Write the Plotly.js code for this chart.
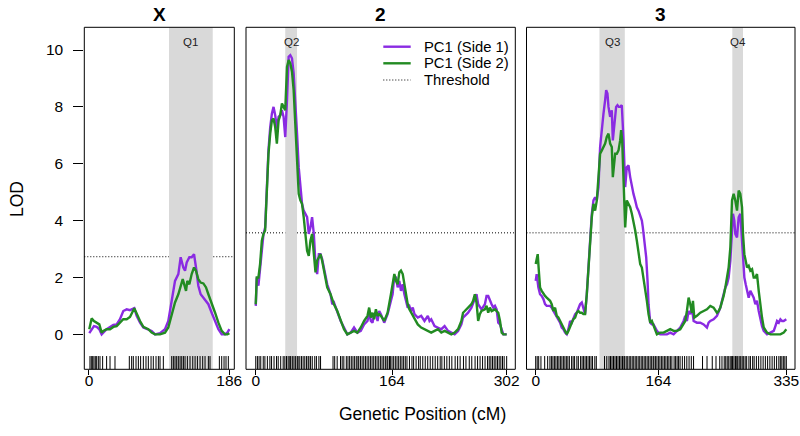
<!DOCTYPE html>
<html>
<head>
<meta charset="utf-8">
<script src="https://cdn.plot.ly/plotly-3.0.1.min.js"></script>
<style>html,body{margin:0;padding:0;background:#fff;}#chart{width:800px;height:436px;}</style>
</head>
<body>
<div id="chart"></div>
<script>
// ---------------- DATA ----------------
const chromosomes = ['X', '2', '3'];
const chrLengths = [186, 302, 335];
const chrTicks = [[0, 186], [0, 164, 302], [0, 164, 335]];
const thresholds = [2.73, 3.57, 3.57];
const seriesNames = ['PC1 (Side 1)', 'PC1 (Side 2)', 'Threshold'];
const lodTicks = [0, 2, 4, 6, 8, 10];

const qtlNames = ['Q1', 'Q2', 'Q3', 'Q4'];
const qtlChr = [0, 1, 2, 2];
const qtlStart = [106.1, 35.5, 85.2, 262.8];
const qtlEnd = [164.1, 49.7, 119.1, 277.1];

// Chromosome X
const chrXPos1 = [0.4,3.5,6.6,10.2,13.7,16.8,19.0,23.4,27.9,32.3,36.7,41.1,45.5,50.0,54.4,60.1,63.2,67.7,72.1,78.7,83.1,87.6,94.2,100.8,105.2,109.7,114.1,118.5,121.6,125.1,127.4,129.6,133.1,136.2,139.3,141.9,145.0,148.1,151.7,153.9,158.3,162.7,167.2,171.6,176.0,180.4,183.5,186.2];
const chrXSide1 = [0.04,0.18,0.29,0.26,0.18,0,0.06,0.18,0.26,0.33,0.35,0.53,0.82,0.88,0.85,0.92,0.65,0.41,0.24,0.18,0.12,0,0.04,0.18,0.47,1.18,1.88,2.12,2.71,2.35,2.24,2.53,2.71,2.71,2.82,2.35,1.71,1.41,1.29,1.18,1.06,0.76,0.47,0.18,0,0,0.06,0.18];
const chrXPos2 = [0.4,3.5,6.6,10.2,13.7,16.8,19.0,23.4,27.9,32.3,36.7,41.1,45.5,50.0,54.4,60.1,63.2,67.7,72.1,78.7,83.1,87.6,94.2,100.8,105.2,109.7,114.1,118.5,121.6,124.3,128.7,130.4,133.1,136.2,139.3,141.9,145.0,148.1,151.7,155.2,158.3,162.7,167.2,171.6,176.0,180.4,183.5,186.2];
const chrXSide2 = [0.18,0.56,0.47,0.41,0.35,0.06,0.12,0.18,0.18,0.26,0.29,0.41,0.53,0.53,0.61,0.92,0.71,0.47,0.26,0.18,0.06,0,0,0.06,0.24,0.71,1.12,1.41,1.65,1.94,1.53,1.88,1.76,2.12,2.35,2.24,1.94,1.82,1.79,1.65,1.41,1.12,0.76,0.41,0.12,0,0,0.04];

// Chromosome 2
const chr2Pos1 = [0,1.2,3.2,5.2,7.3,9.3,11.3,13.3,15.3,17.4,19.4,21.4,23.4,25.4,27.5,29.5,31.5,33.5,35.5,37.6,39.6,41.6,43.6,45.6,47.6,49.7,51.7,53.7,55.7,57.7,59.8,61.8,63.8,65.8,67.8,69.9,71.9,73.9,75.9,77.9,79.9,82.0,84.0,86.0,90.0,92.1,94.1,98.1,102.2,106.2,110.2,114.3,118.3,122.3,126.4,130.4,134.5,136.5,138.5,140.5,142.5,144.6,146.6,148.6,150.6,154.6,158.7,162.7,164.7,166.8,168.8,170.8,172.8,174.8,176.9,178.9,182.9,184.9,187.0,189.0,191.0,195.0,199.1,203.1,207.1,209.2,211.2,215.2,219.3,223.3,227.3,229.3,231.4,235.4,239.4,243.5,247.5,249.5,251.6,255.6,259.6,261.6,263.7,265.7,267.7,271.7,275.8,277.8,279.8,281.8,283.9,285.9,287.9,289.9,291.9,294.0,296.0,298.0,300.0,302.0];
const chr2Side1 = [1.0,2.0,1.71,2.35,3.18,3.53,3.76,5.18,6.47,7.29,7.76,8.0,7.71,7.24,7.65,7.71,7.88,7.65,6.94,8.24,9.76,9.82,9.71,9.18,8.24,7.06,5.88,5.18,4.59,4.35,4.24,4.12,3.53,3.76,4.12,3.53,2.47,2.12,2.82,2.82,2.65,2.35,2.0,1.76,1.41,1.06,1.12,0.76,0.47,0.24,0,0.06,0.24,0.06,0.12,0.35,0.47,0.76,0.47,0.41,0.71,0.76,0.47,0.82,0.71,0.41,0.71,1.18,1.41,2.06,2.0,1.65,1.88,1.53,1.76,1.41,0.94,1.0,0.82,0.94,0.71,0.59,0.65,0.47,0.65,0.47,0.53,0.29,0.24,0.18,0.29,0.18,0.12,0.06,0,0.12,0.35,0.59,0.65,0.76,0.94,1.12,1.24,1.41,1.06,0.88,1.06,1.35,1.35,1.18,1.06,0.94,1.0,0.88,0.41,0.35,0.18,0,0,0];
const chr2Pos2 = [0,1.2,3.2,5.2,7.3,9.3,11.3,13.3,15.3,17.4,19.4,21.4,23.4,25.4,27.5,29.5,31.5,33.5,35.5,37.6,39.6,41.6,43.6,45.6,47.6,49.7,51.7,53.7,55.7,57.7,59.8,61.8,63.8,65.8,67.8,69.9,71.9,73.9,75.9,77.9,79.9,82.0,84.0,86.0,90.0,94.1,98.1,102.2,106.2,110.2,114.3,118.3,122.3,126.4,130.4,134.5,136.5,138.5,140.5,142.5,144.6,146.6,148.6,150.6,154.6,158.7,162.7,164.7,166.8,168.8,170.8,172.8,174.8,176.9,178.9,182.9,184.9,187.0,191.0,195.0,199.1,203.1,207.1,211.2,215.2,219.3,223.3,227.3,231.4,235.4,239.4,243.5,247.5,249.5,251.6,255.6,259.6,261.6,263.7,265.7,267.7,269.7,271.7,275.8,277.8,279.8,281.8,283.9,287.9,291.9,294.0,296.0,298.0,300.0,302.0];
const chr2Side2 = [1.06,2.0,2.0,2.47,3.29,3.53,3.65,5.18,6.35,7.06,7.53,7.59,7.29,6.71,7.53,7.71,8.12,8.0,7.88,9.41,9.65,9.53,9.24,8.59,7.41,6.12,4.94,4.71,4.59,4.12,3.53,2.94,2.76,3.29,3.53,2.82,2.18,2.59,2.71,2.82,2.59,2.24,1.88,1.65,1.41,1.06,0.82,0.47,0.18,0,0.06,0.12,0.06,0.24,0.47,0.65,0.94,0.59,0.76,0.53,0.88,0.65,0.71,0.65,0.47,0.76,1.41,1.76,2.12,1.88,1.76,2.18,2.24,2.12,1.71,1.06,0.88,0.76,0.53,0.35,0.24,0.18,0.12,0.06,0.12,0.18,0.06,0.12,0.06,0,0.06,0.18,0.47,0.76,0.82,0.94,1.06,1.18,1.41,1.12,0.47,0.71,0.82,0.88,1.0,0.76,0.94,0.82,0.88,0.76,0.47,0.06,0,0,0];

// Chromosome 3
const chr3Pos1 = [0,1.3,3.6,5.8,8.0,10.3,12.5,14.7,19.2,21.4,23.7,25.9,28.1,30.3,32.6,34.8,37.0,39.3,41.5,43.7,46.0,48.2,50.4,52.7,54.9,57.1,59.3,61.6,63.8,66.0,68.3,70.5,72.7,75.0,77.2,79.4,81.7,83.9,86.1,88.4,90.6,92.8,94.2,95.9,97.3,99.5,101.7,103.1,104.9,106.2,107.5,109.3,111.1,112.9,115.1,117.4,119.6,121.8,124.1,126.3,128.5,130.7,133.0,135.2,137.4,139.7,141.9,143.2,145.0,147.7,149.5,150.8,153.1,155.3,157.5,159.8,162.0,166.4,170.9,175.4,179.8,184.3,188.8,193.2,197.7,199.9,202.1,204.4,206.6,208.8,211.1,215.5,220.0,224.5,228.9,231.1,233.4,237.8,242.3,246.8,249.0,251.2,253.5,255.7,257.9,260.2,262.4,263.7,265.5,266.8,269.1,271.3,273.5,274.9,277.1,278.9,280.7,282.5,284.7,286.9,289.2,291.4,293.6,295.8,298.1,300.3,302.5,304.8,307.0,309.2,313.7,318.2,320.4,322.6,324.9,327.1,329.3,331.5,335];
const chr3Side1 = [1.88,2.12,1.65,1.41,1.35,1.24,1.06,1.0,1.0,0.94,0.82,0.71,0.59,0.47,0.41,0.24,0.18,0.06,0,0.18,0.47,0.41,0.59,0.71,0.76,0.94,1.06,1.12,0.94,0.71,1.41,2.35,3.29,4.24,4.71,4.82,4.71,5.18,6.59,7.29,7.76,8.24,8.59,8.47,8.0,7.65,7.88,6.82,7.41,7.88,8.0,8.06,8.0,8.0,8.06,6.82,5.18,5.88,5.94,5.53,5.18,4.94,4.71,4.47,4.35,4.12,4.0,3.76,3.41,2.71,1.88,1.06,0.41,0.35,0.35,0.24,0.12,0,0,0,0.06,0,0.12,0.24,0.47,0.65,0.47,0.82,0.71,0.94,0.47,0.41,0.41,0.35,0.24,0.41,0.47,0.53,0.65,0.94,1.18,1.41,1.65,1.76,2.0,2.59,4.0,4.24,4.0,3.53,3.41,4.12,4.24,3.53,2.59,2.0,1.76,1.53,1.29,1.53,1.41,1.29,1.06,1.18,0.82,0.53,0.29,0.12,0.06,0,0.06,0.12,0.29,0.47,0.41,0.53,0.47,0.47,0.53];
const chr3Pos2 = [0,1.3,2.7,4.5,5.8,8.0,10.3,12.5,14.7,19.2,21.4,23.7,25.9,28.1,30.3,32.6,34.8,37.0,39.3,41.5,43.7,46.0,48.2,50.4,52.7,54.9,57.1,59.3,61.6,63.8,66.0,68.3,70.5,72.7,75.0,77.2,79.4,81.7,83.9,86.1,88.4,90.6,92.8,95.0,97.3,99.5,101.7,103.1,104.9,106.2,108.4,110.7,112.9,114.2,115.6,117.4,119.6,121.8,124.1,126.3,128.5,130.7,133.0,135.2,137.4,139.7,141.9,144.1,146.4,148.6,150.8,153.1,155.3,157.5,159.8,162.0,166.4,170.9,175.4,179.8,184.3,188.8,193.2,197.7,199.9,202.1,204.4,206.6,208.8,210.2,212.0,215.5,220.0,224.5,228.9,233.4,237.8,242.3,244.5,246.8,249.0,251.2,253.5,255.7,257.9,260.2,262.4,264.6,266.8,269.1,271.3,273.5,275.8,277.1,278.9,280.7,282.5,284.7,286.9,289.2,291.4,293.6,295.8,298.1,300.3,302.5,304.8,309.2,313.7,318.2,322.6,327.1,331.5,335];
const chr3Side2 = [2.47,2.71,2.82,2.12,1.65,1.53,1.41,1.35,1.29,1.18,1.06,0.82,0.94,0.65,0.59,0.47,0.35,0.24,0.12,0,0.12,0.29,0.41,0.53,0.59,0.76,0.82,0.76,0.76,0.71,0.71,1.41,2.35,3.29,4.12,4.59,4.35,4.71,5.41,6.35,6.47,6.59,6.71,6.94,7.06,6.71,6.59,5.53,6.12,6.35,6.35,6.47,6.82,7.18,6.82,5.18,3.76,4.71,4.59,4.47,4.24,4.0,3.65,3.29,2.82,2.47,2.35,2.0,1.65,1.18,0.71,0.41,0.47,0.29,0.12,0,0.06,0.06,0.12,0.18,0.12,0.12,0.18,0.35,0.47,0.82,1.29,1.06,0.76,1.18,0.59,0.65,0.76,0.82,0.88,1.0,0.94,0.76,0.82,0.94,1.12,1.35,1.65,2.0,2.35,3.06,4.71,4.94,4.71,4.35,5.06,4.94,4.47,3.53,2.82,2.59,2.35,2.41,2.24,2.29,2.0,2.0,2.12,1.53,0.94,0.59,0.24,0.06,0,0,0,0,0.06,0.18];

// Marker (genotyped) positions shown in the rug
const chrXMarkers = [1.3,3.1,4.9,6.6,8.4,10.2,12.4,14.6,18.1,23.4,27.9,34.5,53.5,56.6,58.8,62.4,65.5,68.5,72.1,75.6,78.7,82.3,85.3,88.9,92.0,94.2,98.6,109.7,111.9,114.1,116.3,118.5,120.8,123.0,125.2,127.4,130.5,134.0,137.6,140.7,143.8,147.3,150.8,153.9,158.3,160.5,172.9,176.0,179.1,181.7,184.8];
const chr2Markers = [0,2,4,6,9,11,14,17,19,22,25,27,30,33,35,37,39,41,42,44,46,48,50,51,53,55,57,59,61,63,64,66,68,71,73,76,78,93,95,98,102,104,106,109,111,113,115,117,119,121,123,124,126,128,130,132,134,136,138,140,142,144,146,148,150,152,154,156,158,159,161,162,164,166,168,170,172,174,176,178,180,182,185,188,190,193,196,198,201,204,207,210,213,216,219,222,224,227,230,233,236,240,243,246,250,253,257,260,264,267,270,273,276,279,281,283,285,287,289,291,293,295,297,299,302];
const chr3Markers = [0,2,4,7,12,16,19,21,23,25,27,29,31,33,35,37,39,41,43,45,48,50,52,55,57,60,62,64,66,68,70,72,74,76,79,81,92,95,98,100,102,104,106,108,110,112,114,116,118,119,121,123,125,127,129,131,133,135,137,139,141,143,145,147,149,151,153,155,157,158,160,162,164,166,168,170,172,174,176,178,180,182,185,187,189,191,193,196,199,202,205,208,211,223,229,236,241,246,249,252,254,256,258,260,262,263,265,267,268,270,272,274,276,278,280,282,285,287,290,292,295,298,301,304,307,310,313,316,319,322,325,327,329,331,333,335];

// ---------------- LAYOUT HELPERS ----------------
const W = 800, H = 436;
const px = v => v / W;
const py = v => 1 - v / H;
const purple = '#8a2be2';
const green = '#228b22';
const shade = '#d9d9d9';
const FONT = 'Liberation Sans, Arial, Helvetica, sans-serif';
const DOTS = '1px,2px';

const panelLeft = [84.3, 246, 526.5];
const panelRight = [234.3, 515.3, 795];
const xRanges = [[-6.2, 192.7], [-11.75, 312.4], [-12.3, 346.6]];
const yRange = [-1.23, 10.8];
const yDomain = [py(369.3), py(27.3)];

const pos1 = [chrXPos1, chr2Pos1, chr3Pos1];
const side1 = [chrXSide1, chr2Side1, chr3Side1];
const pos2 = [chrXPos2, chr2Pos2, chr3Pos2];
const side2 = [chrXSide2, chr2Side2, chr3Side2];
const markers = [chrXMarkers, chr2Markers, chr3Markers];

const axName = i => (i === 0 ? 'x' : 'x' + (i + 1));
const axKey = i => (i === 0 ? 'xaxis' : 'xaxis' + (i + 1));

const traces = [];
const shapes = [];
const annotations = [];
const layout = {
  width: W, height: H,
  margin: {l: 0, r: 0, t: 0, b: 0},
  paper_bgcolor: '#fff', plot_bgcolor: 'rgba(0,0,0,0)',
  font: {family: FONT, color: '#000', size: 15.5},
  showlegend: false,
  yaxis: {
    domain: yDomain, range: yRange, anchor: 'x',
    tickvals: lodTicks, ticktext: lodTicks.map(String),
    ticks: 'outside', ticklen: 10, tickwidth: 1, tickcolor: '#000',
    ticklabelstandoff: 7,
    showgrid: false, zeroline: false, showline: false,
    tickfont: {size: 15.5, color: '#000', family: FONT}
  }
};

const rugY = yRange[0] + (-0.84 - yRange[0]) / 2;

for (let i = 0; i < 3; i++) {
  const xa = axName(i);
  layout[axKey(i)] = {
    domain: [px(panelLeft[i]), px(panelRight[i])],
    range: xRanges[i], anchor: 'y',
    tickvals: chrTicks[i], ticktext: chrTicks[i].map(String),
    ticks: 'outside', ticklen: 5, tickwidth: 1, tickcolor: '#000',
    ticklabelstandoff: -8,
    showgrid: false, zeroline: false, showline: false,
    tickfont: {size: 15.5, color: '#000', family: FONT}
  };
  traces.push({
    x: pos1[i], y: side1[i], xaxis: xa, yaxis: 'y', name: seriesNames[0],
    type: 'scatter', mode: 'lines', line: {color: purple, width: 2.4}
  });
  traces.push({
    x: pos2[i], y: side2[i], xaxis: xa, yaxis: 'y', name: seriesNames[1],
    type: 'scatter', mode: 'lines', line: {color: green, width: 2.4}
  });
  traces.push({
    x: markers[i], y: markers[i].map(() => rugY), xaxis: xa, yaxis: 'y',
    type: 'scatter', mode: 'markers', hoverinfo: 'skip',
    marker: {symbol: 'line-ns-open', size: 11, color: '#000', line: {color: '#000', width: 1}}
  });
  // threshold line
  shapes.push({
    type: 'line', xref: xa + ' domain', yref: 'y', x0: 0, x1: 1,
    y0: thresholds[i], y1: thresholds[i], layer: 'below',
    line: {color: '#000', width: 1, dash: DOTS}
  });
  // panel box
  shapes.push({
    type: 'rect', xref: xa + ' domain', yref: 'y domain', x0: 0, x1: 1, y0: 0, y1: 1,
    layer: 'above', line: {color: '#000', width: 1}
  });
  // panel title
  annotations.push({
    xref: xa + ' domain', yref: 'paper', x: 0.5, y: py(14),
    text: chromosomes[i], showarrow: false, xanchor: 'center', yanchor: 'middle',
    font: {size: 19, weight: 'bold', color: '#000', family: FONT}
  });
}

// QTL shaded intervals
for (let q = 0; q < qtlNames.length; q++) {
  const xa = axName(qtlChr[q]);
  shapes.push({
    type: 'rect', xref: xa, yref: 'y domain', x0: qtlStart[q], x1: qtlEnd[q], y0: 0, y1: 1,
    layer: 'below', fillcolor: shade, line: {width: 0}
  });
  annotations.push({
    xref: xa, yref: 'y', x: (qtlStart[q] + qtlEnd[q]) / 2, y: 10.28,
    text: qtlNames[q], showarrow: false, xanchor: 'center', yanchor: 'middle',
    font: {size: 11.5, color: '#222', family: FONT}
  });
}

// Legend (inside panel 2)
const legendY = [46.7, 63.3, 80];
const legendColors = [purple, green, '#000'];
const legendWidths = [2.4, 2.4, 1];
const legendDash = ['solid', 'solid', DOTS];
for (let k = 0; k < 3; k++) {
  shapes.push({
    type: 'line', xref: 'paper', yref: 'paper', x0: px(383.3), x1: px(410.7),
    y0: py(legendY[k]), y1: py(legendY[k]), layer: 'above',
    line: {color: legendColors[k], width: legendWidths[k], dash: legendDash[k]}
  });
  annotations.push({
    xref: 'paper', yref: 'paper', x: px(422), y: py(legendY[k]),
    text: seriesNames[k], showarrow: false, xanchor: 'left', yanchor: 'middle',
    font: {size: 14.8, color: '#000', family: FONT}
  });
}

// Axis titles
annotations.push({
  xref: 'paper', yref: 'paper', x: px(422), y: py(414),
  text: 'Genetic Position (cM)', showarrow: false, xanchor: 'center', yanchor: 'middle',
  font: {size: 17.5, color: '#000', family: FONT}
});
annotations.push({
  xref: 'paper', yref: 'paper', x: px(17), y: py(199),
  text: 'LOD', showarrow: false, textangle: -90, xanchor: 'center', yanchor: 'middle',
  font: {size: 17.5, color: '#000', family: FONT}
});

layout.shapes = shapes;
layout.annotations = annotations;

Plotly.newPlot('chart', traces, layout, {displayModeBar: false, staticPlot: true});
</script>
</body>
</html>
